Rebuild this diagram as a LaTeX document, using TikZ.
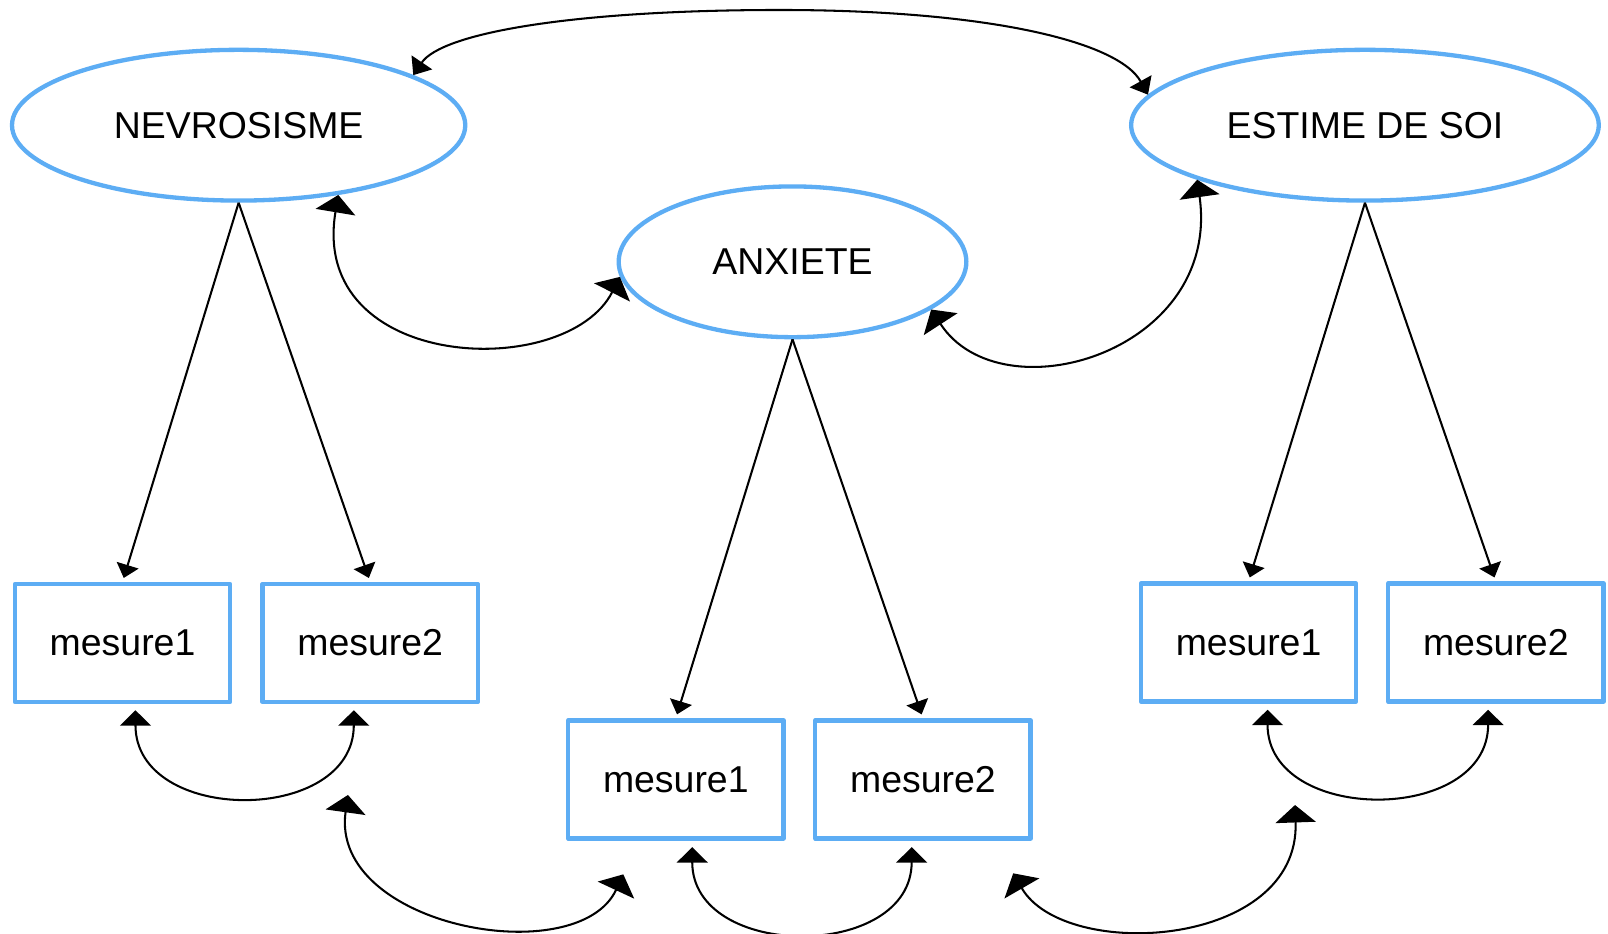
\documentclass[tikz,border=0pt]{standalone}
\usepackage{fontspec}
\setmainfont{Liberation Sans}
\usetikzlibrary{arrows.meta,shapes.geometric}
\definecolor{lblue}{HTML}{5DADF4}
\begin{document}
\begin{tikzpicture}[x=1pt,y=1pt,
  latent/.style={draw=lblue, line width=4.2pt, ellipse, minimum height=147pt,
    inner sep=0pt, font=\fontsize{36.5}{40}\selectfont},
  obs/.style={draw=lblue, line width=4.2pt, rectangle, minimum width=210pt,
    minimum height=115pt, inner sep=0pt, line join=round,
    font=\fontsize{36.5}{40}\selectfont},
  conn/.style={line width=2pt, black},
  load/.style={conn, -{Triangle[length=13pt,width=22pt]}, shorten >=4pt},
  topcov/.style={conn, {Triangle[length=15pt,width=24pt]}-{Triangle[length=15pt,width=24pt]}},
  ucov/.style={conn, {Triangle[length=15pt,width=30pt]}-{Triangle[length=15pt,width=30pt]}},
  bigcov/.style={conn, {Triangle[length=17pt,width=39pt]}-{Triangle[length=17pt,width=39pt]}},
]
\fill[white] (0,0) rectangle (1568,910);
\useasboundingbox (0,0) rectangle (1568,910);

% latent variables
\node[latent, minimum width=442pt] (nev) at (232.7,787.9) {NEVROSISME};
\node[latent, minimum width=456pt] (est) at (1331,787.9) {ESTIME DE SOI};
\node[latent, minimum width=339pt] (anx) at (772.8,654.7) {ANXIETE};

% observed variables
\node[obs] (nm1) at (119.5,283) {mesure1};
\node[obs] (nm2) at (361,283) {mesure2};
\node[obs] (am1) at (659,150) {mesure1};
\node[obs] (am2) at (900,150) {mesure2};
\node[obs] (em1) at (1217.5,283.5) {mesure1};
\node[obs] (em2) at (1458.6,283.5) {mesure2};

% loadings
\draw[load] (nev.south) -- (nm1.north);
\draw[load] (nev.south) -- (nm2.north);
\draw[load] (anx.south) -- (am1.north);
\draw[load] (anx.south) -- (am2.north);
\draw[load] (est.south) -- (em1.north);
\draw[load] (est.south) -- (em2.north);

% covariances between latent variables
\coordinate (ctop) at (760.6,900.25);
\draw[topcov] (nev.16) .. controls +(56:50) and +(-200,0) .. (ctop)
  .. controls +(200,0) and +(119:60) .. (est.172);
\draw[bigcov] (nev.-35) .. controls +(260.5:175) and +(243:115) .. (anx.185);
\draw[bigcov] (est.198) .. controls +(278:170) and +(303:125) .. (anx.-19);

% covariances between measures
\draw[ucov] ([xshift=12.6pt,yshift=-6pt]nm1.south) .. controls +(0,-112) and +(0,-112) .. ([xshift=-16pt,yshift=-6pt]nm2.south);
\draw[ucov] ([xshift=16pt,yshift=-6.5pt]am1.south) .. controls +(0,-111) and +(0,-111) .. ([xshift=-11pt,yshift=-6.5pt]am2.south);
\draw[ucov] ([xshift=18.5pt,yshift=-6pt]em1.south) .. controls +(0,-112) and +(0,-112) .. ([xshift=-7.5pt,yshift=-6pt]em2.south);

% free-ended covariances
\coordinate (gA) at (339.3,134.8);
\coordinate (gB) at (607.8,57.4);
\coordinate (gC) at (988,58.4);
\coordinate (gD) at (1262.8,125);
\draw[bigcov] (gA) .. controls +(262:130) and +(245:105) .. (gB);
\draw[bigcov] (gC) .. controls +(300:100) and +(272:140) .. (gD);
\end{tikzpicture}
\end{document}
